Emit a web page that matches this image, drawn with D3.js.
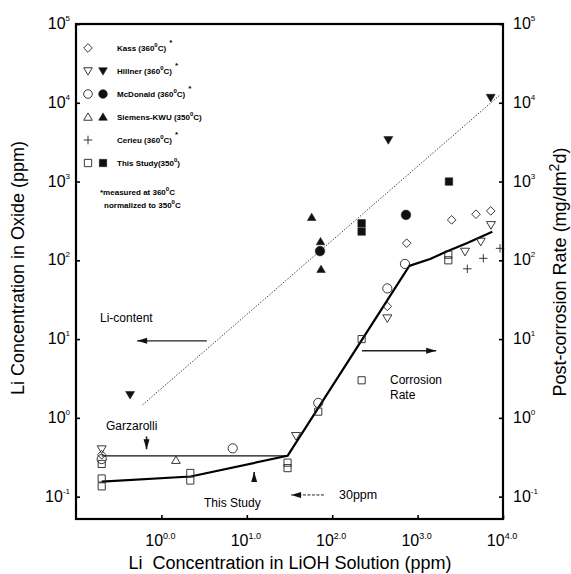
<!DOCTYPE html>
<html><head><meta charset="utf-8">
<script src="https://cdn.jsdelivr.net/npm/d3@7"></script>
<style>
body{margin:0;background:#fff;}
svg{display:block;font-family:"Liberation Sans",Arial,sans-serif;}
</style></head>
<body><svg id="c" width="571" height="574"></svg>
<script>
// ---------- data (x: Li in LiOH solution ppm, y: ppm or mg/dm2d) ----------
const xTicks = [1, 10, 100, 1000, 10000];
const xTickLabels = ["0.0", "1.0", "2.0", "3.0", "4.0"];
const yTicks = [0.1, 1, 10, 100, 1000, 10000, 100000];
const yTickLabels = ["-1", "0", "1", "2", "3", "4", "5"];

const kassOpen = [[0.2,0.34],[442,26],[745,165],[2505,326],[4830,385],[7180,424]];
const hillnerOpen = [[0.2,0.40],[37.7,0.59],[442,18.4],[3590,129],[5480,173],[7230,281]];
const hillnerFilled = [[0.43,1.96],[454,3370],[7180,11600]];
const mcdonaldOpen = [[0.2,0.30],[6.84,0.41],[68.7,1.55],[442,44],[711,90]];
const mcdonaldFilled = [[72,131],[731,377]];
const siemensOpen = [[1.48,0.29]];
const siemensFilled = [[57.5,352],[73,173],[74,77]];
const cerieuPlus = [[3820,78],[5880,106],[9230,142]];
const studyOpen = [[0.2,0.26],[0.2,0.17],[0.2,0.135],[2.18,0.2],[2.18,0.16],[30,0.27],[30,0.23],[68.7,1.2],[221,10],[221,3],[2290,118],[2290,100]];
const studyFilled = [[221,295],[221,232],[2330,1000]];

const corrosionLine = [[0.2,0.155],[2.2,0.18],[30,0.33],[800,85],[1400,104],[2190,129],[3760,165],[7500,231]];
const garzarolliLine = [[0.2,0.33],[30,0.33]];
const liTrendLine = [[0.6,1.46],[9200,12560]];

const legendItems = [
  {name:"Kass (360", tail:"C)", star:true, open:"diamond", filled:null},
  {name:"Hillner (360", tail:"C)", star:true, open:"tridown", filled:"tridown"},
  {name:"McDonald (360", tail:"C)", star:true, open:"circle", filled:"circle"},
  {name:"Siemens-KWU (350", tail:"C)", star:false, open:"triup", filled:"triup"},
  {name:"Cerieu (360", tail:"C)", star:true, open:"plus", filled:null},
  {name:"This Study(350", tail:")", star:false, open:"square", filled:"square"}
];

// ---------- layout ----------
const svg = d3.select("#c");
const L = 76, R = 503, T = 24, B = 519;
const x = d3.scaleLog().domain([0.1, 1e4]).range([L, R]);
const y = d3.scaleLog().domain([0.052, 1e5]).range([B, T]);
const yR = d3.scaleLog().domain([0.052, 1e5]).range([B, T]);

// ---------- symbols ----------
function shapePath(type, r){
  switch(type){
    case "diamond": return `M0,${-r}L${r},0L0,${r}L${-r},0Z`;
    case "tridown": return `M${-r},${-r*0.75}L${r},${-r*0.75}L0,${r*0.95}Z`;
    case "triup": return `M${-r},${r*0.75}L${r},${r*0.75}L0,${-r*0.95}Z`;
    case "square": return `M${-r*0.85},${-r*0.85}H${r*0.85}V${r*0.85}H${-r*0.85}Z`;
    case "plus": return `M${-r},0H${r}M0,${-r}V${r}`;
    case "circle": {const p=d3.path();p.arc(0,0,r,0,2*Math.PI);p.closePath();return p.toString();}
  }
}
function drawMarks(data, type, filled, r, scaleY){
  svg.append("g").selectAll("path").data(data).join("path")
    .attr("transform", d => `translate(${x(d[0])},${scaleY(d[1])})`)
    .attr("d", shapePath(type, r))
    .attr("fill", filled ? "#111" : "none")
    .attr("stroke", "#222")
    .attr("stroke-width", filled ? 0.6 : 0.9);
}

// ---------- lines ----------
const lineGen = d3.line().x(d => x(d[0])).y(d => y(d[1]));
const lineR = d3.line().x(d => x(d[0])).y(d => yR(d[1]));
svg.append("path").datum(liTrendLine).attr("d", lineGen)
  .attr("fill","none").attr("stroke","#333").attr("stroke-width",1).attr("stroke-dasharray","1.3,1.7");
svg.append("path").datum(garzarolliLine).attr("d", lineR)
  .attr("fill","none").attr("stroke","#111").attr("stroke-width",1.3);
svg.append("path").datum(corrosionLine).attr("d", lineR)
  .attr("fill","none").attr("stroke","#000").attr("stroke-width",2.2).attr("stroke-linejoin","round");

// ---------- markers ----------
drawMarks(kassOpen, "diamond", false, 4.3, yR);
drawMarks(hillnerOpen, "tridown", false, 4.5, yR);
drawMarks(mcdonaldOpen, "circle", false, 4.6, yR);
drawMarks(siemensOpen, "triup", false, 4.3, yR);
drawMarks(cerieuPlus, "plus", false, 4.2, yR);
drawMarks(studyOpen, "square", false, 4.2, yR);
drawMarks(hillnerFilled, "tridown", true, 4.5, y);
drawMarks(mcdonaldFilled, "circle", true, 4.8, y);
drawMarks(siemensFilled, "triup", true, 4.3, y);
drawMarks(studyFilled, "square", true, 4.4, y);

// ---------- frame & axes ----------
svg.append("rect").attr("x",L).attr("y",T).attr("width",R-L).attr("height",B-T)
  .attr("fill","none").attr("stroke","#000").attr("stroke-width",2.2);

const gx = svg.append("g").attr("transform",`translate(0,${B})`)
  .call(d3.axisBottom(x).tickValues(xTicks).tickSize(-4).tickFormat(""));
const gl = svg.append("g").attr("transform",`translate(${L},0)`)
  .call(d3.axisLeft(y).tickValues(yTicks).tickSize(-4).tickFormat(""));
const gr = svg.append("g").attr("transform",`translate(${R},0)`)
  .call(d3.axisRight(yR).tickValues(yTicks).tickSize(-4).tickFormat(""));
[gx,gl,gr].forEach(g => { g.select(".domain").remove(); g.selectAll("line").attr("stroke","#000").attr("stroke-width",1.6); });

// bottom tick labels
xTicks.forEach((v,i) => {
  const t = svg.append("text").attr("x", x(v)-1).attr("y", 546).attr("text-anchor","middle")
    .attr("font-size",16);
  t.append("tspan").text("10");
  t.append("tspan").attr("dy",-7).attr("font-size",9).text(xTickLabels[i]);
});
// left tick labels
yTicks.forEach((v,i) => {
  const t = svg.append("text").attr("x", 70).attr("y", y(v)+5).attr("text-anchor","end").attr("font-size",16);
  t.append("tspan").text("10");
  t.append("tspan").attr("dy",-8).attr("font-size",8).text(yTickLabels[i]);
});
// right tick labels
yTicks.forEach((v,i) => {
  const t = svg.append("text").attr("x", 513).attr("y", yR(v)+5).attr("text-anchor","start").attr("font-size",16);
  t.append("tspan").text("10");
  t.append("tspan").attr("dy",-8).attr("font-size",8).text(yTickLabels[i]);
});

// axis titles
svg.append("text").attr("x",290).attr("y",569).attr("text-anchor","middle").attr("font-size",18)
  .style("white-space","pre").text("Li  Concentration in LiOH Solution (ppm)");
svg.append("text").attr("transform","translate(24,268) rotate(-90)").attr("text-anchor","middle")
  .attr("font-size",18).text("Li Concentration in Oxide (ppm)");
const rt = svg.append("text").attr("transform","translate(566,272) rotate(-90)").attr("text-anchor","middle")
  .attr("font-size",18);
rt.append("tspan").text("Post-corrosion Rate (mg/dm");
rt.append("tspan").attr("dy",-7).attr("font-size",14).text("2");
rt.append("tspan").attr("dy",7).text("d)");

// ---------- legend ----------
const lg = svg.append("g").attr("font-family","'Liberation Sans Narrow','Liberation Sans',Arial,sans-serif")
  .attr("font-weight","bold").attr("font-size",8);
legendItems.forEach((it,i) => {
  const yy = 48 + i*23;
  lg.append("path").attr("transform",`translate(88,${yy})`).attr("d",shapePath(it.open,4.3))
    .attr("fill","none").attr("stroke","#222").attr("stroke-width",0.9);
  if (it.filled) lg.append("path").attr("transform",`translate(103,${yy})`).attr("d",shapePath(it.filled,4.3))
    .attr("fill","#111").attr("stroke","#111").attr("stroke-width",0.6);
  const t = lg.append("text").attr("x",117).attr("y",yy+3);
  t.append("tspan").text(it.name);
  t.append("tspan").attr("dy",-4).attr("font-size",6).text("0");
  t.append("tspan").attr("dy",4).text(it.tail);
  if (it.star) t.append("tspan").attr("dx",3).attr("dy",-6).text("*");
});
const n1 = lg.append("text").attr("x",100).attr("y",195);
n1.append("tspan").text("*measured at 360");
n1.append("tspan").attr("dy",-4).attr("font-size",6).text("0");
n1.append("tspan").attr("dy",4).text("C");
const n2 = lg.append("text").attr("x",104).attr("y",208);
n2.append("tspan").text("normalized to 350");
n2.append("tspan").attr("dy",-4).attr("font-size",6).text("0");
n2.append("tspan").attr("dy",4).text("C");

// ---------- annotations ----------
function arrow(x1,y1,x2,y2,dash,w){
  svg.append("line").attr("x1",x1).attr("y1",y1).attr("x2",x2).attr("y2",y2)
    .attr("stroke","#222").attr("stroke-width",w||1.4).attr("stroke-dasharray",dash||null);
  const a = Math.atan2(y2-y1,x2-x1), len=10, hw=3;
  const p = [[x2,y2],[x2-len*Math.cos(a)+hw*Math.sin(a), y2-len*Math.sin(a)-hw*Math.cos(a)],
             [x2-len*Math.cos(a)-hw*Math.sin(a), y2-len*Math.sin(a)+hw*Math.cos(a)]];
  svg.append("path").attr("d","M"+p.join("L")+"Z").attr("fill","#111");
}
arrow(x(3.4), y(9.5), x(0.52), y(9.5));
arrow(x(223), yR(7.1), x(1650), yR(7.1));
arrow(x(80), yR(0.105), x(33), yR(0.105), "3,1.5", 1);
arrow(x(0.67), yR(0.58), x(0.67), yR(0.40), null, 1.6);
arrow(x(12.2), yR(0.155), x(12.2), yR(0.205), null, 1.6);

const ann = svg.append("g").attr("font-size",12).attr("fill","#000");
ann.append("text").attr("x",100).attr("y",322).text("Li-content");
ann.append("text").attr("x",106).attr("y",430).text("Garzarolli");
ann.append("text").attr("x",204).attr("y",507).text("This Study");
ann.append("text").attr("x",339).attr("y",499).attr("font-size",12.5).text("30ppm");
ann.append("text").attr("x",390).attr("y",384).text("Corrosion");
ann.append("text").attr("x",390).attr("y",399).text("Rate");
</script></body></html>
